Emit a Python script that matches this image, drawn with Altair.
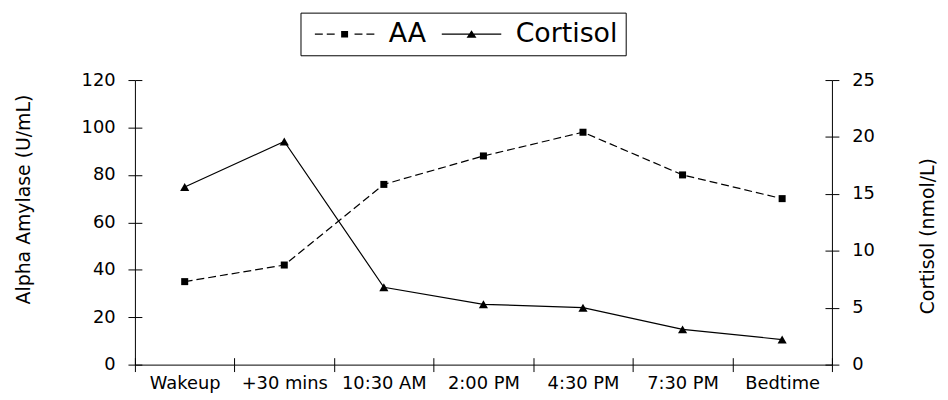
import altair as alt
import pandas as pd

# ---- data ----
times = ["Wakeup", "+30 mins", "10:30 AM", "2:00 PM", "4:30 PM", "7:30 PM", "Bedtime"]
aa_values = [35, 42, 76, 88, 98, 80, 70]
cortisol_values = [15.6, 19.6, 6.8, 5.3, 5.0, 3.1, 2.2]
series_names = ["AA", "Cortisol"]
aa_ticks = [0, 20, 40, 60, 80, 100, 120]
cortisol_ticks = [0, 5, 10, 15, 20, 25]

df = pd.DataFrame({
    "time": times * 2,
    "series": [series_names[0]] * len(times) + [series_names[1]] * len(times),
    "value": aa_values + cortisol_values,
})

FONT = "DejaVu Sans"
BLACK = "black"

x_scale = alt.Scale(type="band", domain=times, paddingInner=0, paddingOuter=0)


def x_enc(axis):
    if axis is None:
        return alt.X("time:N", scale=x_scale, axis=None, bandPosition=0.5)
    return alt.X("time:N", scale=x_scale, axis=axis, bandPosition=0.5)


x_axis_main = alt.Axis(
    orient="bottom", title=None, labelFont=FONT, labelFontSize=18, labelColor=BLACK, labelPadding=3,
    labelAngle=0, tickBand="extent", tickSize=7, tickColor=BLACK, tickWidth=1,
    domainColor=BLACK, domainWidth=1, grid=False, labelLimit=0,
)
x_axis_inner = alt.Axis(
    orient="bottom", title=None, labels=False, domain=False, tickBand="extent", tickSize=7,
    tickColor=BLACK, tickWidth=1, offset=-7, grid=False,
)

y_left = alt.Axis(
    orient="left", values=aa_ticks, title="Alpha Amylase (U/mL)", titleAngle=270,
    titleX=-112, titleY=120, titleAlign="center", titleBaseline="middle",
    titleFont=FONT, titleFontSize=19, titleFontWeight="normal", titleColor=BLACK,
    labelFont=FONT, labelFontSize=18, labelColor=BLACK, labelPadding=13,
    tickSize=7, tickColor=BLACK, tickWidth=1, domainColor=BLACK, domainWidth=1, grid=False,
)
y_left_inner = alt.Axis(
    orient="left", values=aa_ticks, title=None, labels=False, domain=False,
    tickSize=7, tickColor=BLACK, tickWidth=1, offset=-7, grid=False,
)
y_right = alt.Axis(
    orient="right", values=cortisol_ticks, title="Cortisol (nmol/L)", titleAngle=270,
    titleX=96, titleY=157, titleAlign="center", titleBaseline="middle",
    titleFont=FONT, titleFontSize=19, titleFontWeight="normal", titleColor=BLACK,
    labelFont=FONT, labelFontSize=18, labelColor=BLACK, labelPadding=13,
    tickSize=7, tickColor=BLACK, tickWidth=1, domainColor=BLACK, domainWidth=1, grid=False,
)
y_right_inner = alt.Axis(
    orient="right", values=cortisol_ticks, title=None, labels=False, domain=False,
    tickSize=7, tickColor=BLACK, tickWidth=1, offset=-7, grid=False,
)

# legend glyphs (filled shapes): a dashed / solid thin bar with the series marker in its middle
def bar(x0, x1, h=0.06):
    return f"M{x0},{-h}L{x1},{-h}L{x1},{h}L{x0},{h}Z"

aa_path = (bar(-0.7, 0.1) + bar(0.5, 1.3) + bar(3.3, 4.1) + bar(4.5, 5.3)
           + "M1.95,-0.33L2.65,-0.33L2.65,0.33L1.95,0.33Z")
cort_path = bar(-0.7, 5.3) + "M2.3,-0.4L2.8,0.36L1.8,0.36Z"

legend = alt.Legend(
    title=None, orient="none", legendX=167, legendY=-68, direction="horizontal",
    strokeColor=BLACK, padding=8, symbolSize=400, symbolStrokeWidth=0,
    symbolFillColor=BLACK, symbolOpacity=1,
    labelFont=FONT, labelFontSize=27, labelColor=BLACK, labelOffset=54,
    labelBaseline="middle", columnPadding=9, labelLimit=0,
)

DASH = [8, 4]
shape_scale = alt.Scale(domain=series_names, range=[aa_path, cort_path])

aa_y_scale = alt.Scale(domain=[0, 120], nice=False)
cort_y_scale = alt.Scale(domain=[0, 25], nice=False)

base = alt.Chart(df)
aa_base = base.transform_filter(alt.datum.series == "AA")
cort_base = base.transform_filter(alt.datum.series == "Cortisol")

aa_line = aa_base.mark_line(color=BLACK, strokeWidth=1.2, strokeDash=DASH).encode(
    x=x_enc(x_axis_main),
    y=alt.Y("value:Q", scale=aa_y_scale, axis=y_left),
)
aa_pts = aa_base.mark_point(shape="square", filled=True, size=50, color=BLACK, opacity=1).encode(
    x=x_enc(x_axis_main),
    y=alt.Y("value:Q", scale=aa_y_scale, axis=y_left),
)
# zero-size marks that only carry the legend (one glyph per series)
aa_legend = aa_base.mark_point(filled=True, size=0, color=BLACK, opacity=1).encode(
    x=x_enc(x_axis_main),
    y=alt.Y("value:Q", scale=aa_y_scale, axis=y_left),
    shape=alt.Shape("series:N", scale=shape_scale, legend=legend),
)
aa_layer = alt.layer(aa_line, aa_pts, aa_legend)

cort_line = cort_base.mark_line(color=BLACK, strokeWidth=1.2).encode(
    x=x_enc(None),
    y=alt.Y("value:Q", scale=cort_y_scale, axis=y_right),
)
cort_pts = cort_base.mark_point(shape="triangle-up", filled=True, size=85, color=BLACK, opacity=1).encode(
    x=x_enc(None),
    y=alt.Y("value:Q", scale=cort_y_scale, axis=y_right),
)
cort_legend = cort_base.mark_point(filled=True, size=0, color=BLACK, opacity=1).encode(
    x=x_enc(None),
    y=alt.Y("value:Q", scale=cort_y_scale, axis=y_right),
    shape=alt.Shape("series:N", scale=shape_scale, legend=legend),
)
cort_layer = alt.layer(cort_line, cort_pts, cort_legend)

aa_inner = aa_base.mark_point(opacity=0).encode(
    x=x_enc(x_axis_inner),
    y=alt.Y("value:Q", scale=aa_y_scale, axis=y_left_inner),
)
cort_inner = cort_base.mark_point(opacity=0).encode(
    x=x_enc(None),
    y=alt.Y("value:Q", scale=cort_y_scale, axis=y_right_inner),
)

chart = alt.layer(aa_layer, cort_layer, aa_inner, cort_inner).resolve_scale(
    x="independent", y="independent", shape="shared"
).properties(
    width=703, height=287,
    padding={"left": 128, "top": 71, "right": 109, "bottom": 34},
    autosize=alt.AutoSizeParams(type="none"),
    background="white",
).configure_view(strokeWidth=0)

chart.save("out.html", embed_options={"renderer": "svg", "actions": False})
